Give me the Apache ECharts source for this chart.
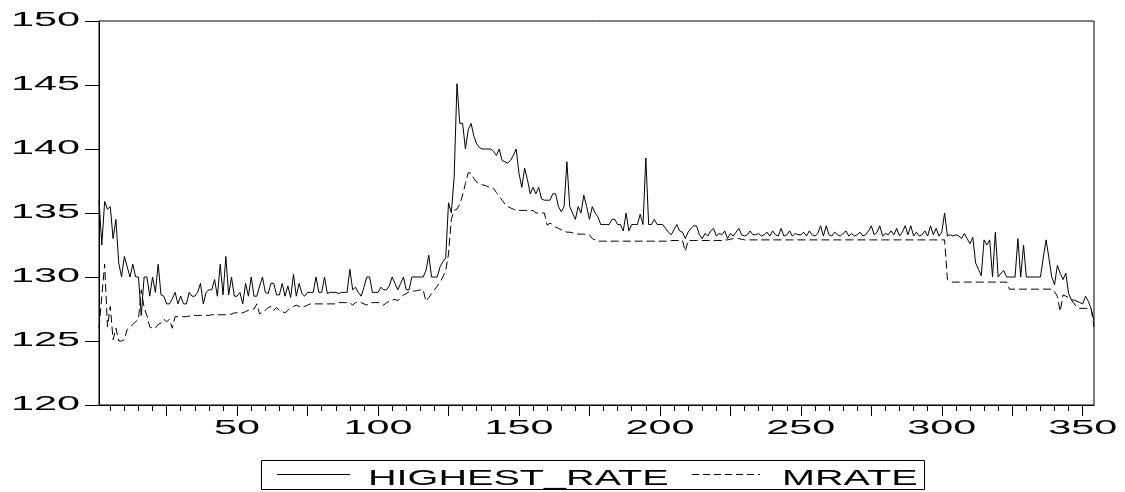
<!DOCTYPE html>
<html>
<head>
<meta charset="utf-8">
<script src="https://cdn.jsdelivr.net/npm/echarts@6/dist/echarts.min.js"></script>
<style>
  html, body { margin: 0; padding: 0; background: #fff; overflow: hidden; }
  #chart { width: 1125px; height: 492px; }
</style>
</head>
<body>
<div id="chart"></div>
<script>
// Daily observations of the highest quoted rate and the mean rate
const highestRate = [
  136.0,132.5,135.9,135.3,135.5,133.0,134.5,131.1,130.0,131.6,
  130.8,130.0,131.0,130.0,130.0,127.0,130.0,130.0,128.5,130.0,
  128.8,131.0,128.6,128.5,127.9,127.9,128.3,128.8,127.9,128.5,
  127.9,127.9,128.8,128.5,128.5,128.8,129.5,127.9,128.8,129.0,
  129.0,129.8,128.5,131.0,128.6,131.6,128.6,130.0,128.5,128.5,
  128.8,127.9,129.5,128.5,130.0,128.5,128.5,129.3,130.0,128.8,
  128.7,129.5,129.5,128.6,128.6,129.5,128.5,129.3,128.4,130.2,
  128.5,129.5,128.7,128.5,128.8,128.8,128.8,130.0,128.8,128.8,
  130.0,128.7,128.8,128.8,128.8,128.7,128.8,128.8,128.8,130.6,
  129.0,129.2,128.8,128.5,129.2,130.0,130.0,128.8,128.8,128.8,
  129.2,129.0,129.0,129.3,130.0,129.5,129.0,129.5,130.0,129.0,
  129.0,130.0,130.0,130.0,130.0,130.0,130.5,131.7,130.0,130.0,
  130.0,130.8,131.2,131.5,135.8,135.0,137.8,145.1,142.0,142.0,
  140.0,141.5,142.0,141.0,140.4,140.1,140.0,140.0,140.0,140.0,
  139.8,139.5,140.0,139.1,139.0,138.9,139.1,139.5,140.0,138.1,
  137.0,138.5,137.6,136.5,137.0,136.5,137.0,136.1,136.0,136.0,
  136.0,136.5,136.5,135.5,135.1,135.5,139.0,135.5,135.0,134.5,
  135.5,135.0,136.4,135.5,134.5,135.5,135.0,134.7,134.1,134.1,
  134.1,134.1,134.5,134.5,134.1,134.1,133.6,135.0,133.6,134.1,
  134.1,134.1,134.9,134.1,139.3,134.1,134.1,134.5,134.1,134.1,
  134.1,133.8,133.5,133.3,133.7,134.1,133.6,133.5,133.0,133.5,
  133.8,134.0,134.0,133.3,133.0,133.4,133.2,133.6,133.8,133.2,
  133.4,133.3,133.6,133.0,133.4,133.2,133.5,133.8,133.3,133.2,
  133.3,133.6,133.3,133.3,133.4,133.2,133.3,133.5,133.2,133.6,
  133.3,133.2,133.8,133.2,133.3,133.6,133.2,133.4,133.3,133.3,
  133.5,133.2,133.6,133.3,133.2,133.4,134.0,133.2,134.0,133.3,
  133.2,133.5,133.3,133.2,133.4,133.6,133.2,133.4,133.2,133.3,
  133.5,133.2,133.3,133.6,134.0,133.3,133.5,134.0,133.2,133.4,
  133.3,133.6,133.3,133.8,133.2,133.5,134.0,133.3,134.0,133.2,
  133.5,133.2,133.3,133.6,133.2,134.0,133.3,133.8,133.2,133.5,
  135.0,133.2,133.3,133.2,133.3,133.2,133.0,133.4,133.0,132.6,
  133.1,131.1,130.6,130.1,132.9,132.5,132.9,130.0,133.5,130.0,
  130.3,130.5,130.0,130.0,130.0,130.0,133.0,130.0,132.5,130.0,
  130.0,130.0,130.0,130.0,130.0,131.5,132.9,131.5,130.0,129.4,
  130.9,130.3,129.8,130.3,128.7,128.2,128.2,128.1,128.0,127.9,
  128.5,128.1,127.5,126.6
];

const mRate = [
  126.0,128.5,131.0,126.1,127.7,125.1,126.0,125.0,125.0,125.1,
  125.9,126.1,126.3,126.5,126.7,129.0,127.6,127.0,126.1,126.0,
  126.0,126.3,126.4,126.7,126.5,126.7,126.0,126.9,126.9,126.9,
  126.9,126.9,126.95,126.95,127.0,127.0,127.0,127.0,127.0,127.0,
  127.05,127.05,127.05,127.05,127.05,127.05,127.1,127.1,127.2,127.2,
  127.2,127.2,127.3,127.4,127.5,127.5,127.9,127.1,127.3,127.4,
  127.6,127.7,127.4,127.6,127.4,127.3,127.2,127.4,127.6,127.7,
  127.8,127.7,127.6,127.7,127.8,127.9,127.9,127.9,127.9,127.9,
  127.9,127.9,127.9,127.9,127.9,128.0,128.0,128.0,128.0,128.0,
  127.8,128.0,128.0,128.0,127.9,127.8,128.0,128.0,128.0,128.0,
  128.0,127.8,128.0,128.1,128.2,128.25,128.15,128.4,128.6,128.7,
  128.85,128.9,128.9,128.95,129.0,129.0,128.1,128.4,128.7,129.0,
  129.3,129.6,130.0,130.5,131.8,134.5,135.2,135.3,135.7,136.4,
  137.3,138.15,138.1,137.7,137.4,137.3,137.2,137.15,137.05,137.0,
  136.9,136.6,136.3,136.0,135.7,135.5,135.4,135.3,135.2,135.2,
  135.2,135.2,135.2,135.2,135.2,135.0,135.0,135.0,135.0,134.05,
  134.2,134.1,133.9,133.8,133.7,133.6,133.5,133.5,133.45,133.4,
  133.35,133.35,133.35,133.3,133.3,133.0,132.9,132.8,132.8,132.8,
  132.8,132.8,132.8,132.8,132.8,132.8,132.8,132.8,132.8,132.8,
  132.8,132.8,132.8,132.8,132.8,132.8,132.8,132.8,132.8,132.8,
  132.8,132.8,132.8,132.85,132.85,132.85,132.85,132.85,132.0,132.85,
  132.85,132.85,132.85,132.85,132.85,132.85,132.85,132.85,132.85,132.85,
  132.85,132.85,132.9,132.9,132.95,133.0,133.0,133.0,132.95,132.9,
  132.9,132.9,132.9,132.9,132.9,132.9,132.9,132.9,132.9,132.9,
  132.9,132.9,132.9,132.9,132.9,132.9,132.9,132.9,132.9,132.9,
  132.9,132.9,132.9,132.9,132.9,132.9,132.9,132.9,132.9,132.9,
  132.9,132.9,132.9,132.9,132.9,132.9,132.9,132.9,132.9,132.9,
  132.9,132.9,132.9,132.9,132.9,132.9,132.9,132.9,132.9,132.9,
  132.9,132.9,132.9,132.9,132.9,132.9,132.9,132.9,132.9,132.9,
  132.9,132.9,132.9,132.9,132.9,132.9,132.9,132.9,132.9,132.9,
  132.9,129.8,129.65,129.6,129.6,129.6,129.6,129.6,129.6,129.6,
  129.6,129.6,129.6,129.6,129.6,129.6,129.6,129.6,129.6,129.6,
  129.6,129.6,129.6,129.05,129.05,129.05,129.05,129.05,129.05,129.05,
  129.05,129.05,129.05,129.05,129.05,129.05,129.05,129.05,129.05,128.85,
  128.5,127.3,128.6,128.5,128.4,128.2,127.9,127.6,127.55,127.55,
  127.55,127.55,127.5,126.1
];

const seriesNames = ['HIGHEST_RATE', 'MRATE'];
const yTickLabels = [120, 125, 130, 135, 140, 145, 150];
const xTickLabels = [50, 100, 150, 200, 250, 300, 350];

// observation numbers 1..N used as the category axis
const obs = highestRate.map((_, k) => String(k + 1));

const FONT = '"Liberation Sans", Arial, Helvetica, sans-serif';
const chart = echarts.init(document.getElementById('chart'), null, { renderer: 'canvas' });

chart.setOption({
  animation: false,
  backgroundColor: '#fff',
  grid: {
    left: 99, right: 31, top: 21, bottom: 87,
    show: true, borderColor: '#000', borderWidth: 1, backgroundColor: 'transparent'
  },
  xAxis: [
    {
      type: 'category', data: obs, boundaryGap: false,
      axisLine: { show: true, lineStyle: { color: '#000', width: 1 } },
      axisTick: { show: true, length: 6, interval: (i) => (i + 1) % 5 === 0, lineStyle: { color: '#000', width: 1 } },
      axisLabel: { show: false },
      splitLine: { show: false }
    },
    {
      type: 'category', data: obs, boundaryGap: false, position: 'bottom', offset: 0,
      axisLine: { show: false },
      axisTick: { show: true, length: 11, interval: (i) => (i + 1) % 25 === 0, lineStyle: { color: '#000', width: 1 } },
      axisLabel: { show: false },
      splitLine: { show: false }
    }
  ],
  yAxis: {
    type: 'value', min: 120, max: 150, interval: 5,
    axisLine: { show: true, lineStyle: { color: '#000', width: 1 } },
    axisTick: { show: true, length: 14, lineStyle: { color: '#000', width: 1 } },
    axisLabel: { show: false },
    splitLine: { show: false }
  },
  series: [
    {
      name: seriesNames[0], type: 'line', data: highestRate, xAxisIndex: 0,
      symbol: 'none', showSymbol: false, silent: true,
      lineStyle: { color: '#000', width: 1 }
    },
    {
      name: seriesNames[1], type: 'line', data: mRate, xAxisIndex: 0,
      symbol: 'none', showSymbol: false, silent: true,
      lineStyle: { color: '#000', width: 1, type: [8, 4] }
    }
  ]
});

// Wide, stretched tick labels and the boxed legend underneath
const graphics = [];
yTickLabels.forEach((v) => {
  const y = chart.convertToPixel({ yAxisIndex: 0 }, v);
  graphics.push({
    type: 'text', x: 80, y: y - 1, scaleX: 2.07,
    style: { text: String(v), fontSize: 20, fontFamily: FONT, fill: '#000',
             align: 'right', textAlign: 'right', verticalAlign: 'middle', textVerticalAlign: 'middle' }
  });
});
xTickLabels.forEach((v) => {
  const x = chart.convertToPixel({ xAxisIndex: 0 }, v - 1);
  graphics.push({
    type: 'text', x: x, y: 428, scaleX: 2.07,
    style: { text: String(v), fontSize: 20, fontFamily: FONT, fill: '#000',
             align: 'center', textAlign: 'center', verticalAlign: 'middle', textVerticalAlign: 'middle' }
  });
});

graphics.push(
  { type: 'rect', shape: { x: 261.5, y: 460.5, width: 663, height: 29 },
    style: { fill: 'none', stroke: '#000', lineWidth: 1 } },
  { type: 'line', shape: { x1: 277, y1: 474.5, x2: 350, y2: 474.5 },
    style: { stroke: '#000', lineWidth: 1 } },
  { type: 'text', x: 368, y: 479, scaleX: 1.8,
    style: { text: seriesNames[0], fontSize: 22, fontFamily: FONT, fill: '#000',
             align: 'left', textAlign: 'left', verticalAlign: 'middle', textVerticalAlign: 'middle' } },
  { type: 'line', shape: { x1: 692, y1: 474.5, x2: 760, y2: 474.5 },
    style: { stroke: '#000', lineWidth: 1, lineDash: [7, 4] } },
  { type: 'text', x: 782, y: 479, scaleX: 1.8,
    style: { text: seriesNames[1], fontSize: 22, fontFamily: FONT, fill: '#000',
             align: 'left', textAlign: 'left', verticalAlign: 'middle', textVerticalAlign: 'middle' } }
);

chart.setOption({ graphic: { elements: graphics } });
</script>
</body>
</html>
